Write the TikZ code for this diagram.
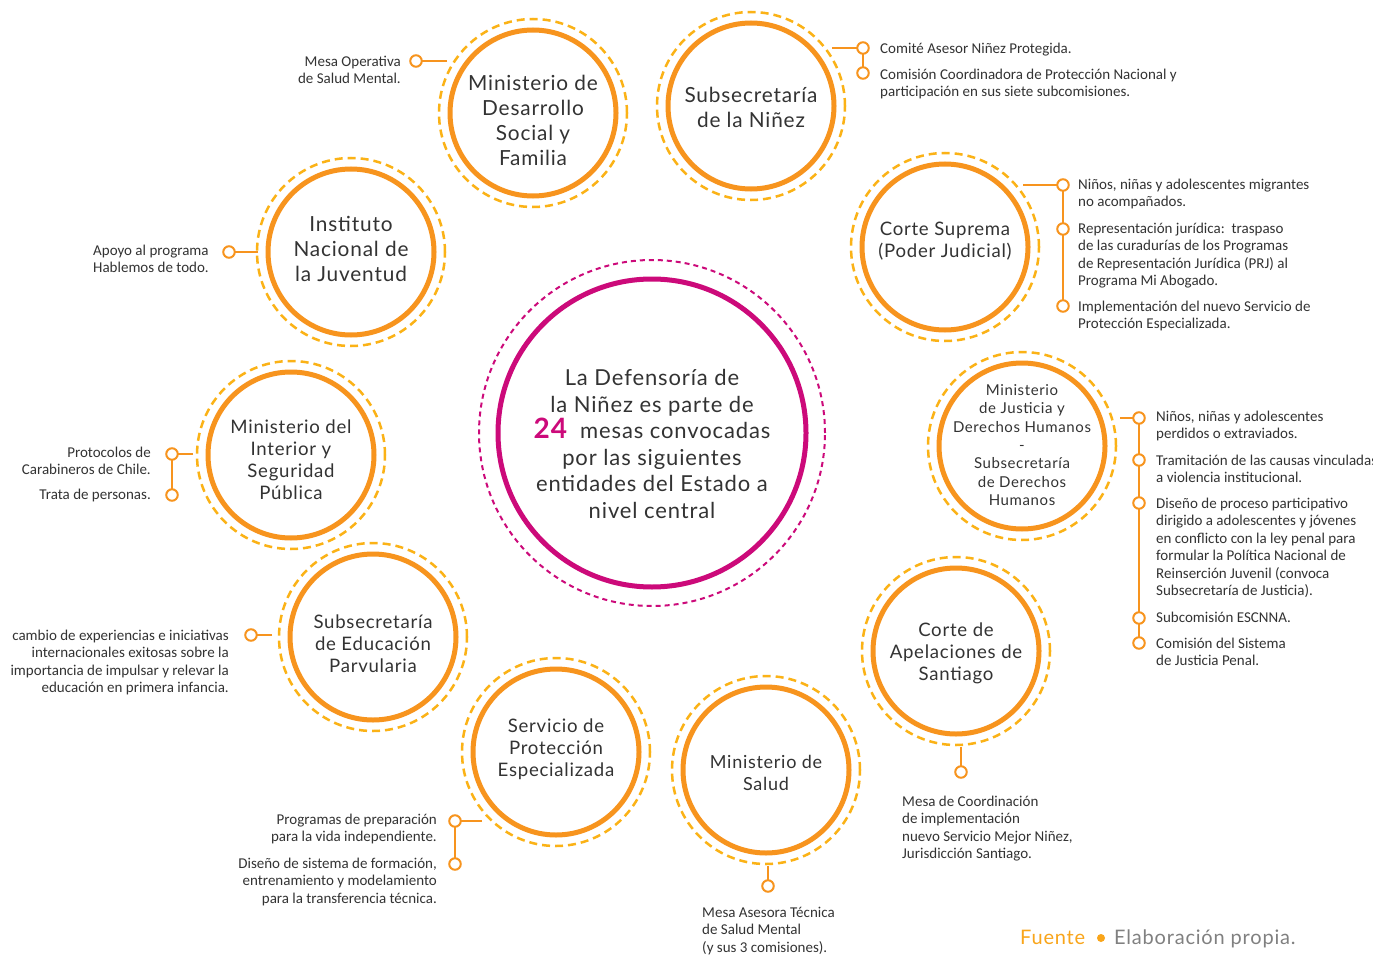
\documentclass[tikz,border=0pt]{standalone}
\usepackage{fontspec}
\setmainfont{Lato}
\newfontfamily\labelfont[LetterSpace=4]{Lato}
\newfontfamily\notefont{Carlito}
\usetikzlibrary{backgrounds}
\definecolor{orgC}{HTML}{F7941E}
\definecolor{ringC}{HTML}{FBB216}
\definecolor{mag}{HTML}{CC0A7A}
\definecolor{txt}{HTML}{333333}
\definecolor{fuenteC}{HTML}{F9A51A}
\definecolor{srcgray}{HTML}{808080}
\tikzset{
 ent/.style={circle, draw=orgC, line width=5pt, minimum size=166pt, inner sep=0pt},
 ring/.style={draw=ringC, line width=2.5pt, dash pattern=on 8pt off 5pt},
 dot/.style={circle, draw=orgC, line width=2pt, fill=white, minimum size=11.5pt, inner sep=0pt},
 conn/.style={draw=orgC, line width=2pt},
 lbl/.style={text=txt, align=center, font=\labelfont\fontsize{18.6}{22}\selectfont, inner sep=0pt},
 lblbig/.style={lbl, font=\labelfont\fontsize{20.8}{25}\selectfont},
 note/.style={text=txt, font=\notefont\fontsize{15}{17.5}\selectfont, inner sep=0pt},
 notel/.style={note, anchor=north west, align=left},
 noter/.style={note, anchor=north east, align=right},
}
\begin{document}
\begin{tikzpicture}[x=1pt,y=-1pt]
\useasboundingbox (0,0) rectangle (1373,955);

% central circle
\node[circle, draw=mag, line width=5pt, minimum size=308pt, inner sep=0pt] (cen) at (652,433) {};
\draw[draw=mag, line width=2pt, dash pattern=on 5pt off 4pt] (cen.center) circle (173pt);
\node[text=txt, align=center, font=\labelfont\fontsize{22}{26.5}\selectfont, inner sep=0pt] (centxt) at (652,444)
 {La Defensoría de\\la Niñez es parte de\\{\color{mag}\bfseries\fontsize{28}{26.5}\selectfont 24}\ \ mesas convocadas\\por las siguientes\\entidades del Estado a\\nivel central};

% entity circles
\node[ent] (mdsf) at (533,113) {};
\node[ent] (ninez) at (751,106) {};
\node[ent] (injuv) at (351,252) {};
\node[ent] (cs) at (945,247) {};
\node[ent] (mi) at (291,455) {};
\node[ent] (mj) at (1022,446) {};
\node[ent] (sep) at (373,637) {};
\node[ent] (ca) at (956,651) {};
\node[ent] (spe) at (556,752) {};
\node[ent] (ms) at (766,770) {};
\foreach \n in {mdsf,ninez,injuv,cs,mi,mj,sep,ca,spe,ms}{\draw[ring] (\n.center) circle (94pt);}

% labels
\node[lblbig] (mdsfT) at (533,120) {Ministerio de\\Desarrollo\\Social y\\Familia};
\node[lblbig] (ninezT) at (751,107) {Subsecretaría\\de la Niñez};
\node[lblbig] (injuvT) at (351,249) {Instituto\\Nacional de\\la Juventud};
\node[lbl] (csT) at (945,241) {Corte Suprema\\(Poder Judicial)};
\node[lbl] (miT) at (291,460) {Ministerio del\\Interior y\\Seguridad\\Pública};
\node[lbl, font=\labelfont\fontsize{15}{18.3}\selectfont] (mjT) at (1022,445) {Ministerio\\de Justicia y\\Derechos Humanos\\-\\Subsecretaría\\de Derechos\\Humanos};
\node[lbl] (sepT) at (373,644) {Subsecretaría\\de Educación\\Parvularia};
\node[lbl] (caT) at (956,653) {Corte de\\Apelaciones de\\Santiago};
\node[lbl] (speT) at (556,749) {Servicio de\\Protección\\Especializada};
\node[lbl, font=\labelfont\fontsize{18}{22}\selectfont] (msT) at (766,773) {Ministerio de\\Salud};

% connector start points
\coordinate (mdsfS) at (447,61);
\coordinate (ninezS) at (832,48);
\coordinate (injuvS) at (258,252);
\coordinate (csS) at (1023,185);
\coordinate (miS) at (193,454);
\coordinate (mjS) at (1120,418);
\coordinate (sepS) at (272,635);
\coordinate (speS) at (482,821);
\coordinate (msS) at (768,866);
\coordinate (caS) at (961,747);

% dots
\node[dot] (d1) at (416,61) {};
\node[dot] (d2a) at (863,48) {};
\node[dot] (d2b) at (863,73) {};
\node[dot] (d3) at (229,252) {};
\node[dot] (d4a) at (1063,185) {};
\node[dot] (d4b) at (1063,229) {};
\node[dot] (d4c) at (1063,306) {};
\node[dot] (d5a) at (172,454) {};
\node[dot] (d5b) at (172,495) {};
\node[dot] (d6a) at (1139,418) {};
\node[dot] (d6b) at (1139,460) {};
\node[dot] (d6c) at (1139,503) {};
\node[dot] (d6d) at (1139,618) {};
\node[dot] (d6e) at (1139,643) {};
\node[dot] (d7) at (251,635) {};
\node[dot] (d8a) at (455,821) {};
\node[dot] (d8b) at (455,864) {};
\node[dot] (d9) at (768,886) {};
\node[dot] (d10) at (961,772) {};

\begin{scope}[on background layer]
\fill[white] (0,0) rectangle (1373,955);
\draw[conn] (mdsfS) -- (d1.center);
\draw[conn] (ninezS) -- (d2a.center) -- (d2b.center);
\draw[conn] (injuvS) -- (d3.center);
\draw[conn] (csS) -- (d4a.center) -- (d4b.center) -- (d4c.center);
\draw[conn] (miS) -- (d5a.center) -- (d5b.center);
\draw[conn] (mjS) -- (d6a.center) -- (d6b.center) -- (d6c.center) -- (d6d.center) -- (d6e.center);
\draw[conn] (sepS) -- (d7.center);
\draw[conn] (speS) -- (d8a.center) -- (d8b.center);
\draw[conn] (msS) -- (d9.center);
\draw[conn] (caS) -- (d10.center);
\end{scope}

% notes
\node[noter] (n1) at (401,55.5) {Mesa Operativa\\de Salud Mental.};
\node[notel] (n2a) at (880,42.5) {Comité Asesor Niñez Protegida.};
\node[notel] (n2b) at (880,68.5) {Comisión Coordinadora de Protección Nacional y\\participación en sus siete subcomisiones.};
\node[notel] (n3) at (93,244.5) {Apoyo al programa\\Hablemos de todo.};
\node[notel] (n4a) at (1078,178.5) {Niños, niñas y adolescentes migrantes\\no acompañados.};
\node[notel] (n4b) at (1078,222.5) {Representación jurídica:\ \ traspaso\\de las curadurías de los Programas\\de Representación Jurídica (PRJ) al\\Programa Mi Abogado.};
\node[notel] (n4c) at (1078,300.5) {Implementación del nuevo Servicio de\\Protección Especializada.};
\node[noter] (n5a) at (151,446.5) {Protocolos de\\Carabineros de Chile.};
\node[noter] (n5b) at (151,488.5) {Trata de personas.};
\node[notel] (n6a) at (1156,410.5) {Niños, niñas y adolescentes\\perdidos o extraviados.};
\node[notel] (n6b) at (1156,454.5) {Tramitación de las causas vinculadas\\a violencia institucional.};
\node[notel] (n6c) at (1156,497.5) {Diseño de proceso participativo\\dirigido a adolescentes y jóvenes\\en conflicto con la ley penal para\\formular la Política Nacional de\\Reinserción Juvenil (convoca\\Subsecretaría de Justicia).};
\node[notel] (n6d) at (1156,611.5) {Subcomisión ESCNNA.};
\node[notel] (n6e) at (1156,637.5) {Comisión del Sistema\\de Justicia Penal.};
\node[noter] (n7) at (229,629.5) {cambio de experiencias e iniciativas\\internacionales exitosas sobre la\\importancia de impulsar y relevar la\\educación en primera infancia.};
\node[noter] (n8a) at (437,813.5) {Programas de preparación\\para la vida independiente.};
\node[noter] (n8b) at (437,857.5) {Diseño de sistema de formación,\\entrenamiento y modelamiento\\para la transferencia técnica.};
\node[notel] (n9) at (702,906.5) {Mesa Asesora Técnica\\de Salud Mental\\(y sus 3 comisiones).};
\node[notel] (n10) at (902,795.5) {Mesa de Coordinación\\de implementación\\nuevo Servicio Mejor Niñez,\\Jurisdicción Santiago.};

% source
\node[anchor=base west, inner sep=0pt, font=\labelfont\fontsize{20}{24}\selectfont, text=fuenteC] (src1) at (1020,944) {Fuente};
\node[circle, fill=fuenteC, minimum size=8pt, inner sep=0pt] (srcdot) at (1101,938) {};
\node[anchor=base west, inner sep=0pt, font=\labelfont\fontsize{20}{24}\selectfont, text=srcgray] (src2) at (1114,944) {Elaboración propia.};
\end{tikzpicture}
\end{document}
